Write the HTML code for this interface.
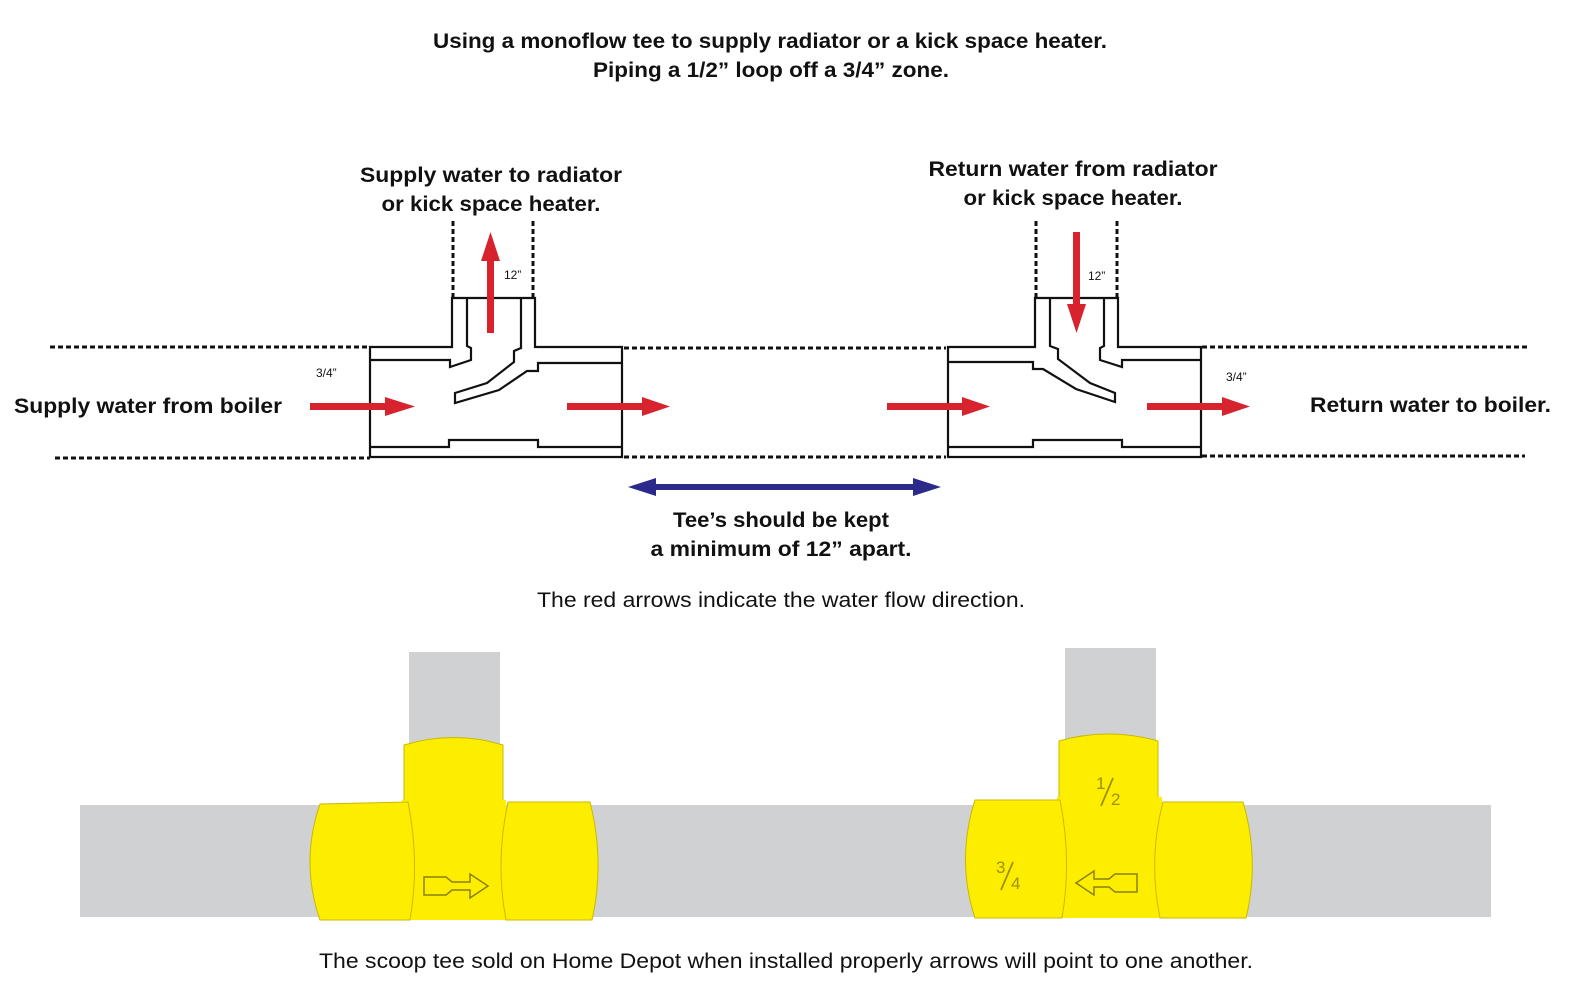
<!DOCTYPE html>
<html><head><meta charset="utf-8"><style>
html,body{margin:0;padding:0;background:#fff;}
svg{display:block;}
text{font-family:"Liberation Sans",sans-serif;fill:#111;}
.b{font-weight:bold;}
.f{fill:#9c9000;font-size:17px;}
</style></head><body>
<svg width="1578" height="1000" viewBox="0 0 1578 1000" xmlns="http://www.w3.org/2000/svg">
<!-- titles -->
<text class="b" x="770" y="48" font-size="21" text-anchor="middle" textLength="674" lengthAdjust="spacingAndGlyphs">Using a monoflow tee to supply radiator or a kick space heater.</text>
<text class="b" x="771" y="77" font-size="21" text-anchor="middle" textLength="356" lengthAdjust="spacingAndGlyphs">Piping a 1/2” loop off a 3/4” zone.</text>
<text class="b" x="491" y="182" font-size="21" text-anchor="middle" textLength="262" lengthAdjust="spacingAndGlyphs">Supply water to radiator</text>
<text class="b" x="491" y="211" font-size="21" text-anchor="middle" textLength="219" lengthAdjust="spacingAndGlyphs">or kick space heater.</text>
<text class="b" x="1073" y="176" font-size="21" text-anchor="middle" textLength="289" lengthAdjust="spacingAndGlyphs">Return water from radiator</text>
<text class="b" x="1073" y="205" font-size="21" text-anchor="middle" textLength="219" lengthAdjust="spacingAndGlyphs">or kick space heater.</text>
<text class="b" x="14" y="413" font-size="21" textLength="268" lengthAdjust="spacingAndGlyphs">Supply water from boiler</text>
<text class="b" x="1310" y="412" font-size="21" textLength="241" lengthAdjust="spacingAndGlyphs">Return water to boiler.</text>
<text class="b" x="781" y="527" font-size="21" text-anchor="middle" textLength="216" lengthAdjust="spacingAndGlyphs">Tee’s should be kept</text>
<text class="b" x="781" y="556" font-size="21" text-anchor="middle" textLength="261" lengthAdjust="spacingAndGlyphs">a minimum of 12” apart.</text>
<text x="781" y="607" font-size="21" text-anchor="middle" textLength="488" lengthAdjust="spacingAndGlyphs">The red arrows indicate the water flow direction.</text>
<text x="786" y="968" font-size="21" text-anchor="middle" textLength="934" lengthAdjust="spacingAndGlyphs">The scoop tee sold on Home Depot when installed properly arrows will point to one another.</text>
<text x="316" y="377" font-size="12">3/4”</text>
<text x="1226" y="381" font-size="12">3/4”</text>
<text x="504" y="279" font-size="12">12”</text>
<text x="1088" y="280" font-size="12">12”</text>

<!-- dotted lines -->
<g stroke="#111" stroke-width="3" stroke-dasharray="5,3" fill="none">
<line x1="50" y1="347" x2="370" y2="347"/>
<line x1="55" y1="458" x2="370" y2="458"/>
<line x1="624" y1="348" x2="946" y2="348"/>
<line x1="624" y1="457" x2="946" y2="457"/>
<line x1="1202" y1="347" x2="1528" y2="347"/>
<line x1="1202" y1="456" x2="1525" y2="456"/>
<line x1="453" y1="221" x2="453" y2="298"/>
<line x1="533" y1="221" x2="533" y2="298"/>
<line x1="1036" y1="221" x2="1036" y2="298"/>
<line x1="1117" y1="221" x2="1117" y2="298"/>
</g>

<!-- left tee -->
<g stroke="#111" stroke-width="2.2" fill="none" stroke-linejoin="miter">
<polygon points="370,347 452,347 452,298 535,298 535,347 622,347 622,457 370,457"/>
<polyline points="370,360 450,360 450,367 471,360 471,348 467,346 467,298"/>
<polyline points="521,298 521,348 514,351 514,362 487,383 455,393 455,403 499,390 527,371 538,371 538,363 622,363"/>
<polyline points="370,447 449,447 449,440 538,440 538,447 622,447"/>
</g>
<!-- right tee -->
<g stroke="#111" stroke-width="2.2" fill="none" stroke-linejoin="miter">
<polygon points="948,347 1035,347 1035,298 1118,298 1118,347 1201,347 1201,457 948,457"/>
<polyline points="948,362 1033,362 1033,369 1043,369 1076,389 1115,402 1115,393 1090,383 1058,359 1058,349 1050,346 1050,298"/>
<polyline points="1104,298 1104,346 1100,348 1100,360 1122,367 1122,360 1201,360"/>
<polyline points="948,447 1033,447 1033,440 1122,440 1122,447 1201,447"/>
</g>

<!-- red arrows -->
<g fill="#d7232d">
<rect x="310" y="403" width="78" height="7"/><polygon points="385,397 415,406.5 385,416"/>
<rect x="567" y="403" width="78" height="7"/><polygon points="642,397 670,406.5 642,416"/>
<rect x="887" y="403" width="78" height="7"/><polygon points="962,397 990,406.5 962,416"/>
<rect x="1147" y="403" width="78" height="7"/><polygon points="1222,397 1250,406.5 1222,416"/>
<rect x="487" y="258" width="7" height="75"/><polygon points="481,261 490.5,232 500,261"/>
<rect x="1073" y="232" width="7" height="75"/><polygon points="1067,304 1076.5,333 1086,304"/>
</g>
<!-- blue arrow -->
<g fill="#2b2a8a">
<rect x="650" y="484" width="270" height="6"/>
<polygon points="628,487 656,478 656,496"/>
<polygon points="941,487 913,478 913,496"/>
</g>

<!-- bottom pipes -->
<g fill="#d0d1d3">
<rect x="80" y="805" width="1411" height="112"/>
<rect x="409" y="652" width="91" height="100"/>
<rect x="1065" y="648" width="91" height="100"/>
</g>
<g fill="#fdee00" stroke="#c8b900" stroke-width="1">
<path d="M404,803 L404,745 Q454,730 503,745 L503,803 Z"/>
<path d="M402,800 L506,800 L506,920 L402,920 Z" stroke="none"/>
<path d="M320,804 L408,802 Q420,862 410,920 L320,920 Q300,862 320,804 Z"/>
<path d="M508,802 L590,802 Q605,862 592,920 L506,920 Q495,862 508,802 Z"/>
<path d="M1059,800 L1059,741 Q1108,727 1158,741 L1158,800 Z"/>
<path d="M1057,797 L1162,797 L1162,918 L1057,918 Z" stroke="none"/>
<path d="M975,800 L1060,800 Q1072,860 1062,918 L975,918 Q956,860 975,800 Z"/>
<path d="M1163,802 L1243,802 Q1260,860 1246,918 L1160,918 Q1148,860 1163,802 Z"/>
</g>
<g fill="none" stroke="#8a8000" stroke-width="1.5">
<path d="M424,877 L446,877 L452,882 L470,882 L470,874 L488,886 L470,898 L470,890 L452,890 L446,895 L424,895 Z"/>
<path d="M1137,874 L1115,874 L1109,879 L1094,879 L1094,871 L1076,883 L1094,895 L1094,887 L1109,887 L1115,892 L1137,892 Z"/>
</g>
<!-- fractions -->
<text class="f" x="1096" y="789">1</text>
<line x1="1101" y1="806" x2="1113" y2="778" stroke="#9c9000" stroke-width="1.8"/>
<text class="f" x="1111" y="805">2</text>
<text class="f" x="996" y="873">3</text>
<line x1="1001" y1="890" x2="1013" y2="862" stroke="#9c9000" stroke-width="1.8"/>
<text class="f" x="1011" y="889">4</text>
</svg>
</body></html>
